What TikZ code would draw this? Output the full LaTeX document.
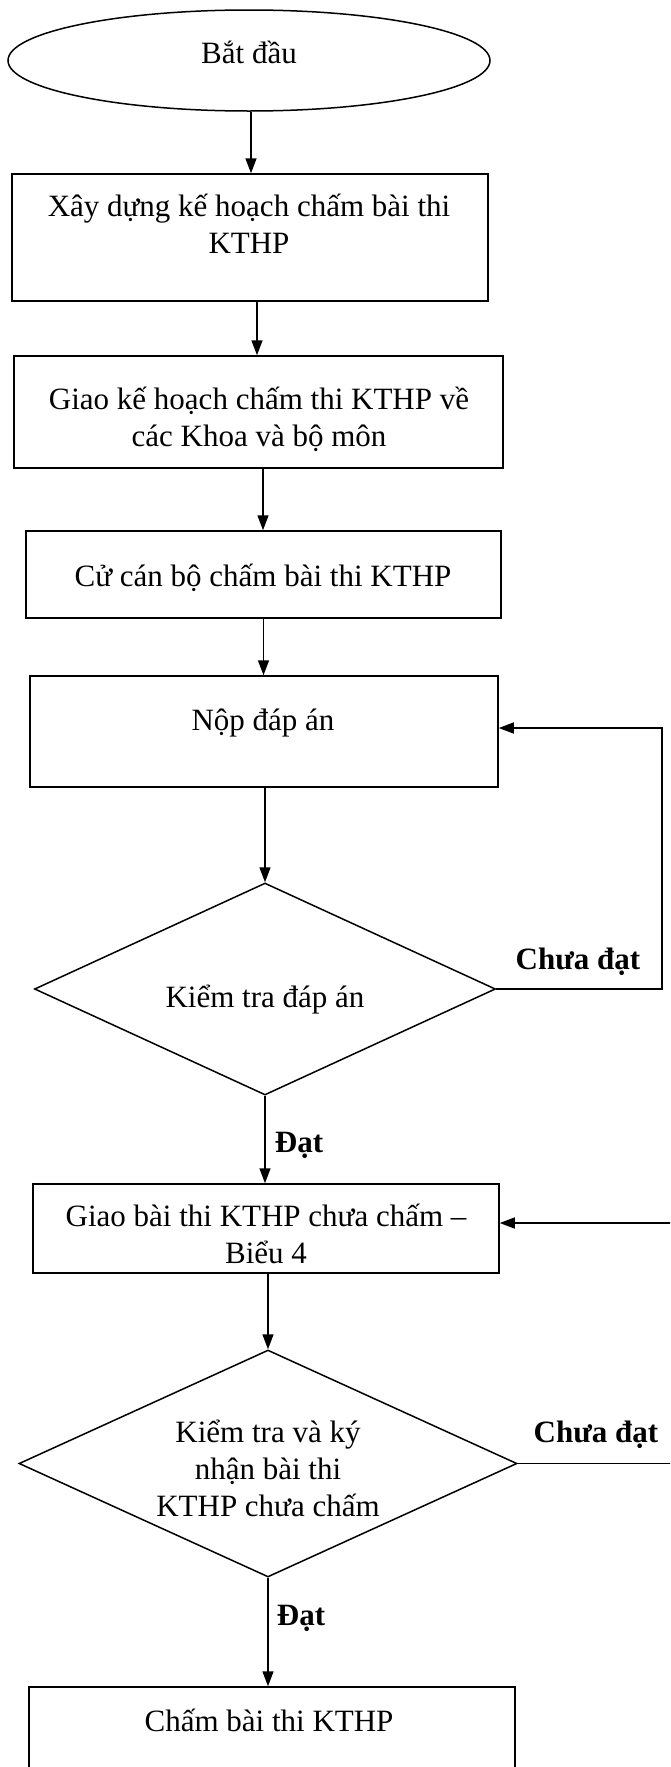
\documentclass[tikz,border=0pt]{standalone}
\usepackage{fontspec}
\setmainfont{Liberation Serif}
\usetikzlibrary{shapes.geometric,arrows.meta}
\begin{document}
\begin{tikzpicture}[x=1pt,y=-1pt,
  line/.style={line width=1.5pt,draw=black},
  arr/.style={line, -{Triangle[length=15pt,width=11pt]}},
  box/.style={line, rectangle, inner sep=0pt},
  dia/.style={line, diamond, inner sep=0pt},
  txt/.style={font=\fontsize{31}{37}\selectfont, align=center, inner sep=0pt},
  lbl/.style={font=\fontsize{31}{37}\selectfont\bfseries, inner sep=0pt}]
\useasboundingbox (0,0) rectangle (670,1767);
\clip (0,0) rectangle (670,1767);
% shapes
\node[line, ellipse, minimum width=482pt, minimum height=101pt, inner sep=0pt] (e) at (249,60.5) {};
\node[box, minimum width=476pt, minimum height=127pt] (b1) at (250,237.5) {};
\node[box, minimum width=489pt, minimum height=112pt] (b2) at (258.5,412) {};
\node[box, minimum width=475pt, minimum height=87pt] (b3) at (263.5,574.5) {};
\node[box, minimum width=468pt, minimum height=111pt] (b4) at (264,731.5) {};
\node[dia, minimum width=461pt, minimum height=212pt] (d1) at (265,989) {};
\node[box, minimum width=466pt, minimum height=89pt] (b5) at (266,1228.5) {};
\node[dia, minimum width=498pt, minimum height=227pt] (d2) at (268,1463.5) {};
\node[box, minimum width=486pt, minimum height=113pt] (b6) at (272,1743.5) {};
% texts
\node[txt] (te) at (249,52) {Bắt đầu};
\node[txt] (t1) at (249,224) {Xây dựng kế hoạch chấm bài thi\\KTHP};
\node[txt] (t2) at (259,419) {Giao kế hoạch chấm thi KTHP về\\các Khoa và bộ môn};
\node[txt] (t3) at (263,578) {Cử cán bộ chấm bài thi KTHP};
\node[txt] (t4) at (263,723) {Nộp đáp án};
\node[txt] (t5) at (265,1000) {Kiểm tra đáp án};
\node[txt] (t6) at (266,1234) {Giao bài thi KTHP chưa chấm –\\Biểu 4};
\node[txt] (t7) at (268,1468) {Kiểm tra và ký\\nhận bài thi\\KTHP chưa chấm};
\node[txt] (t8) at (269,1720) {Chấm bài thi KTHP};
% labels
\node[lbl] (l1) at (578,962) {Chưa đạt};
\node[lbl] (l2) at (299,1145) {Đạt};
\node[lbl] (l3) at (596,1435) {Chưa đạt};
\node[lbl] (l4) at (301,1618) {Đạt};
% connectors
\draw[arr] ([xshift=2pt]e.south) -- ([xshift=2pt]e.south |- b1.north);
\draw[arr] ([xshift=7pt]b1.south) -- ([xshift=7pt]b1.south |- b2.north);
\draw[arr] ([xshift=4.5pt]b2.south) -- ([xshift=4.5pt]b2.south |- b3.north);
\draw[arr] (b3.south) -- (b3.south |- b4.north);
\draw[arr] (b4.south -| d1.north) -- (d1.north);
\draw[arr] (d1.south) -- (d1.south |- b5.north);
\draw[arr] (b5.south -| d2.north) -- (d2.north);
\draw[arr] (d2.south) -- (d2.south |- b6.north);
\coordinate (r1) at (662,728);
\draw[arr] (d1.east) -- (d1.east -| r1) -- (r1) -- (r1 -| b4.east);
\coordinate (r2) at (700,1223);
\draw[arr] (d2.east) -- (d2.east -| r2) -- (r2) -- (r2 -| b5.east);
\end{tikzpicture}
\end{document}
